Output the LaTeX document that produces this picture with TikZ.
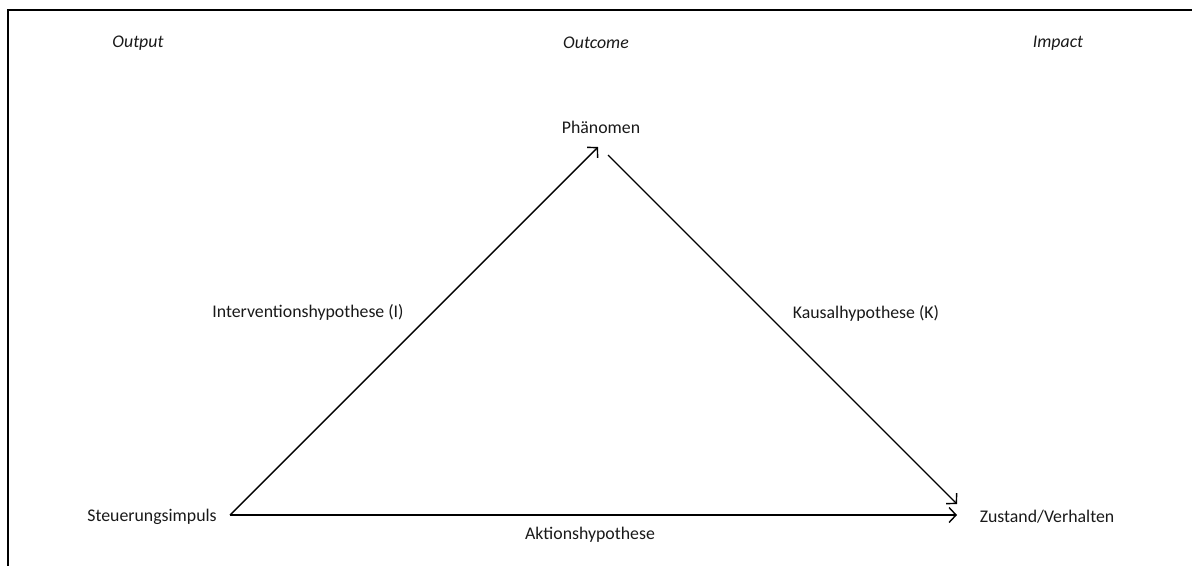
\documentclass[tikz,border=0pt]{standalone}
\usepackage{fontspec}
\setmainfont{Carlito}
\usetikzlibrary{arrows.meta}
\begin{document}
\begin{tikzpicture}[x=1pt,y=-1pt,
  lbl/.style={font=\fontsize{17.8}{21}\selectfont, text=black!90, inner sep=0pt},
  head/.style={lbl, font=\fontsize{17.8}{21}\selectfont\itshape},
  link/.style={line width=1.4pt, -{Straight Barb[length=7pt,width=15pt,line width=1.4pt]}}]
  \useasboundingbox (0,0) rectangle (1192,566);
  % frame lines along top and left
  \draw[line width=2.6pt] (1192,10) -- (8,10) -- (8,566);

  % column headings
  \node[head] (hout) at (138,43) {Output};
  \node[head] (hoc)  at (596,43) {Outcome};
  \node[head] (himp) at (1058,43) {Impact};

  % vertices
  \node[lbl] (phen) at (601,127) {Phänomen};
  \node[lbl] (steu) at (152,517) {Steuerungsimpuls};
  \node[lbl] (zust) at (1047,517) {Zustand/Verhalten};

  % arrow end points next to the vertex labels
  \coordinate (sOut) at (230,515);
  \coordinate (pIn)  at (598,147);
  \coordinate (pOut) at (608,155);
  \coordinate (zInD) at (957,504);
  \coordinate (zInH) at (957,515);

  % hypotheses
  \draw[link] (sOut) -- (pIn);
  \draw[link] (pOut) -- (zInD);
  \draw[link] (sOut) -- (zInH);

  % edge labels
  \node[lbl] (hi) at (308,312) {Interventionshypothese (I)};
  \node[lbl] (hk) at (866,313) {Kausalhypothese (K)};
  \node[lbl] (ha) at (590,535) {Aktionshypothese};
\end{tikzpicture}
\end{document}
